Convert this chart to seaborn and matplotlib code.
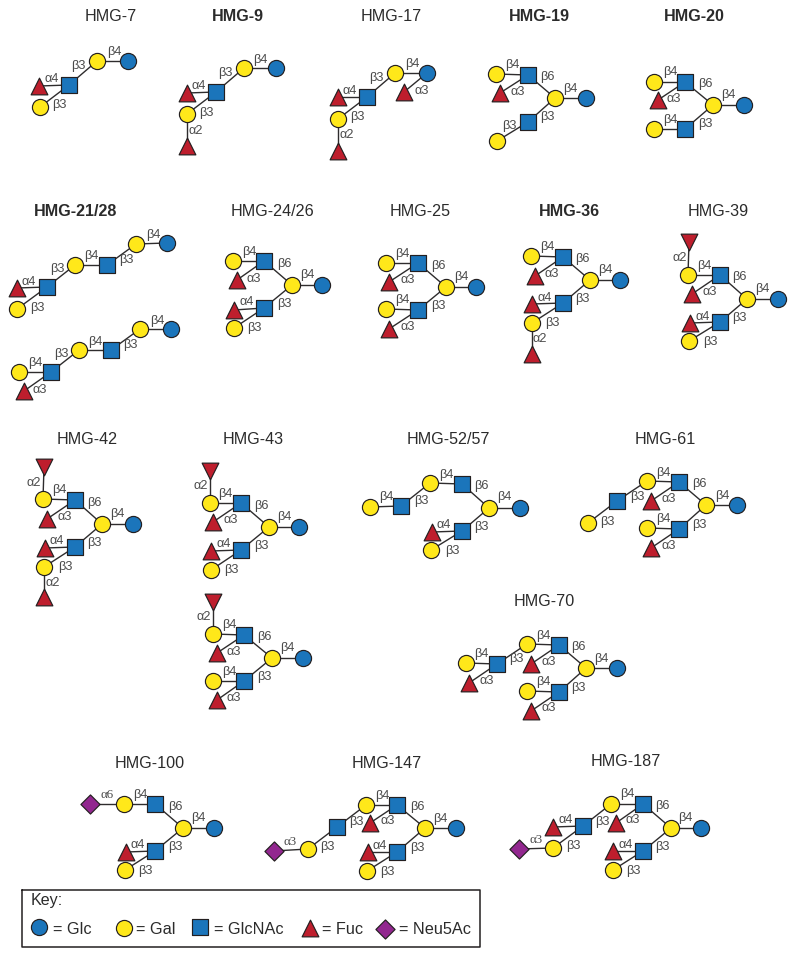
import matplotlib
matplotlib.use("Agg")
import matplotlib.pyplot as plt
import pandas as pd
import seaborn as sns

sns.set_theme(style="white")
plt.rcParams['font.family'] = ['Liberation Sans', 'DejaVu Sans']

# ---- residue appearance -------------------------------------------------
KINDS = ["Glc", "Gal", "GlcNAc", "Fuc", "FucD", "Neu5Ac"]
COLORS = ["#1b75bb", "#ffe81a", "#1b75bb", "#be1e2d", "#be1e2d", "#92278f"]
MARKERS = ["o", "o", "s", "^", "v", "D"]
SIZES = [135, 135, 125, 145, 145, 95]

# ---- titles: text, x, y, bold ------------------------------------------
TITLE_TEXT = ["HMG-7", "HMG-9", "HMG-17", "HMG-19", "HMG-20",
              "HMG-21/28", "HMG-24/26", "HMG-25", "HMG-36", "HMG-39",
              "HMG-42", "HMG-43", "HMG-52/57", "HMG-61", "HMG-70",
              "HMG-100", "HMG-147", "HMG-187"]
TITLE_X = [111, 238, 391, 539, 694, 76, 273, 420, 569, 718, 87, 253, 448, 665, 544, 150, 387, 626]
TITLE_Y = [15, 15, 15, 15, 15, 210, 210, 210, 210, 210, 438, 438, 438, 438, 601, 763, 763, 760]
TITLE_BOLD = ["HMG-9", "HMG-19", "HMG-20", "HMG-21/28", "HMG-36"]

# ---- glycans: residues (kind, x, y), links (index pairs), labels --------
hmg7_nodes = [("Glc",128,61),("Gal",97,61),("GlcNAc",69,85),("Fuc",39,86),("Gal",40,107)]
hmg7_links = [(0,1),(1,2),(2,3),(2,4)]
hmg7_labels = [("β4",114,52),("β3",78,66),("α4",52,79),("β3",59,105)]

hmg9_nodes = [("Glc",276,68),("Gal",244,68),("GlcNAc",216,92),("Fuc",187,93),("Gal",187,114),("Fuc",187,146)]
hmg9_links = [(0,1),(1,2),(2,3),(2,4),(4,5)]
hmg9_labels = [("β4",260,60),("β3",225,73),("α4",199,86),("β3",206,113),("α2",196,131)]

hmg17_nodes = [("Glc",427,73),("Gal",395,73),("GlcNAc",367,97),("Fuc",338,97),("Gal",338,119),("Fuc",338,151),("Fuc",404,92)]
hmg17_links = [(0,1),(1,2),(2,3),(2,4),(4,5),(0,6)]
hmg17_labels = [("β4",412,64),("α3",422,91),("β3",376,78),("α4",350,91),("β3",357,117),("α2",347,135)]

hmg19_nodes = [("Gal",496,74),("GlcNAc",528,75),("Fuc",500,93),("Gal",555,98),("Glc",586,98),("GlcNAc",528,122),("Gal",497,141)]
hmg19_links = [(0,1),(1,2),(1,3),(3,4),(3,5),(5,6)]
hmg19_labels = [("β4",512,65),("α3",518,92),("β6",547,77),("β4",570,89),("β3",547,117),("β3",509,126)]

hmg20_nodes = [("Gal",654,82),("GlcNAc",685,82),("Fuc",658,100),("Gal",713,105),("Glc",744,105),("GlcNAc",685,129),("Gal",654,129)]
hmg20_links = [(0,1),(1,2),(1,3),(3,4),(3,5),(5,6)]
hmg20_labels = [("β4",670,72),("α3",674,99),("β6",705,84),("β4",728,95),("β3",705,124),("β4",670,120)]

hmg21a_nodes = [("Glc",167,243),("Gal",136,244),("GlcNAc",107,265),("Gal",75,265),("GlcNAc",47,287),("Fuc",17,288),("Gal",17,309)]
hmg21a_links = [(0,1),(1,2),(2,3),(3,4),(4,5),(4,6)]
hmg21a_labels = [("β4",153,235),("β3",126,260),("β4",91,256),("β3",57,269),("α4",29,282),("β3",37,308)]

hmg21b_nodes = [("Glc",171,329),("Gal",140,329),("GlcNAc",111,350),("Gal",79,350),("GlcNAc",51,372),("Gal",19,372),("Fuc",24,391)]
hmg21b_links = [(0,1),(1,2),(2,3),(3,4),(4,5),(4,6)]
hmg21b_labels = [("β4",157,321),("β3",130,345),("β4",95,342),("β3",61,354),("β4",35,363),("α3",40,390)]

hmg24_nodes = [("Gal",233,261),("GlcNAc",264,261),("Fuc",237,280),("Gal",292,285),("Glc",322,285),("GlcNAc",264,308),("Fuc",234,310),("Gal",234,328)]
hmg24_links = [(0,1),(1,2),(1,3),(3,4),(3,5),(5,6),(5,7)]
hmg24_labels = [("β4",249,252),("α3",254,279),("β6",284,264),("β4",307,275),("β3",284,304),("α4",247,302),("β3",254,328)]

hmg25_nodes = [("Gal",386,263),("GlcNAc",418,263),("Fuc",389,282),("Gal",446,287),("Glc",476,287),("GlcNAc",418,310),("Gal",386,309),("Fuc",389,329)]
hmg25_links = [(0,1),(1,2),(1,3),(3,4),(3,5),(5,6),(5,7)]
hmg25_labels = [("β4",402,254),("α3",408,280),("β6",438,266),("β4",461,277),("β3",438,306),("β4",402,300),("α3",408,327)]

hmg36_nodes = [("Gal",531,256),("GlcNAc",563,257),("Fuc",535,276),("Gal",590,280),("Glc",620,280),("GlcNAc",563,303),("Fuc",532,304),("Gal",532,323),("Fuc",532,354)]
hmg36_links = [(0,1),(1,2),(1,3),(3,4),(3,5),(5,6),(5,7),(7,8)]
hmg36_labels = [("β4",547,247),("α3",552,274),("β6",582,259),("β4",605,270),("β3",582,299),("α4",545,298),("β3",552,323),("α2",540,339)]

hmg39_nodes = [("FucD",689,242),("Gal",688,275),("GlcNAc",720,275),("Fuc",692,294),("Gal",747,299),("Glc",778,299),("GlcNAc",720,322),("Fuc",690,323),("Gal",689,341)]
hmg39_links = [(0,1),(1,2),(2,3),(2,4),(4,5),(4,6),(6,7),(6,8)]
hmg39_labels = [("α2",680,258),("β4",704,266),("α3",710,292),("β6",739,277),("β4",762,289),("β3",739,318),("α4",703,317),("β3",710,342)]

hmg42_nodes = [("FucD",44,467),("Gal",43,499),("GlcNAc",75,500),("Fuc",47,519),("Gal",102,524),("Glc",133,524),("GlcNAc",75,547),("Fuc",45,548),("Gal",44,567),("Fuc",44,597)]
hmg42_links = [(0,1),(1,2),(2,3),(2,4),(4,5),(4,6),(6,7),(6,8),(8,9)]
hmg42_labels = [("α2",34,483),("β4",59,490),("α3",65,517),("β6",94,503),("β4",117,514),("β3",94,543),("α4",57,541),("β3",65,567),("α2",53,583)]

hmg43a_nodes = [("FucD",210,471),("Gal",210,503),("GlcNAc",241,503),("Fuc",213,522),("Gal",269,527),("Glc",299,527),("GlcNAc",241,550),("Fuc",211,551),("Gal",211,570)]
hmg43a_links = [(0,1),(1,2),(2,3),(2,4),(4,5),(4,6),(6,7),(6,8)]
hmg43a_labels = [("α2",201,486),("β4",225,494),("α3",231,520),("β6",261,506),("β4",284,517),("β3",261,546),("α4",224,544),("β3",231,570)]

hmg43b_nodes = [("FucD",213,602),("Gal",213,634),("GlcNAc",244,635),("Fuc",217,653),("Gal",272,658),("Glc",303,658),("GlcNAc",244,681),("Gal",213,681),("Fuc",217,700)]
hmg43b_links = [(0,1),(1,2),(2,3),(2,4),(4,5),(4,6),(6,7),(6,8)]
hmg43b_labels = [("α2",204,617),("β4",229,625),("α3",234,652),("β6",264,637),("β4",287,648),("β3",264,677),("β4",229,672),("α3",234,698)]

hmg52_nodes = [("Gal",370,507),("GlcNAc",401,506),("Gal",430,483),("GlcNAc",462,484),("Gal",489,508),("Glc",520,508),("GlcNAc",462,531),("Fuc",432,532),("Gal",431,550)]
hmg52_links = [(0,1),(1,2),(2,3),(3,4),(4,5),(4,6),(6,7),(6,8)]
hmg52_labels = [("β4",386,497),("β3",421,501),("β4",446,475),("β6",481,486),("β4",504,497),("β3",481,527),("α4",444,525),("β3",452,551)]

hmg61_nodes = [("Gal",588,523),("GlcNAc",617,501),("Gal",647,481),("GlcNAc",679,482),("Fuc",651,501),("Gal",706,505),("Glc",737,505),("GlcNAc",679,529),("Gal",647,528),("Fuc",651,548)]
hmg61_links = [(0,1),(1,2),(2,3),(3,4),(3,5),(5,6),(5,7),(7,8),(7,9)]
hmg61_labels = [("β3",607,522),("β3",637,497),("β4",663,473),("α3",669,499),("β6",699,484),("β4",722,496),("β4",663,519),("β3",699,525),("α3",669,546)]

hmg70_nodes = [("Gal",466,663),("GlcNAc",497,664),("Fuc",469,683),("Gal",527,644),("GlcNAc",559,645),("Fuc",531,664),("Gal",586,668),("Glc",617,668),("GlcNAc",559,692),("Gal",527,691),("Fuc",531,711)]
hmg70_links = [(0,1),(1,2),(1,3),(3,4),(4,5),(4,6),(6,7),(6,8),(8,9),(8,10)]
hmg70_labels = [("β4",481,654),("α3",487,681),("β3",516,659),("β4",543,636),("α3",549,662),("β6",578,647),("β4",601,659),("β4",543,682),("β3",578,688),("α3",549,708)]

hmg100_nodes = [("Neu5Ac",90,804),("Gal",124,804),("GlcNAc",155,804),("Gal",183,828),("Glc",214,828),("GlcNAc",155,851),("Fuc",126,852),("Gal",125,870)]
hmg100_links = [(0,1),(1,2),(2,3),(3,4),(3,5),(5,6),(5,7)]
hmg100_labels = [("α6",107,795),("β4",140,795),("β6",175,807),("β4",198,818),("β3",175,847),("α4",138,845),("β3",145,871)]

hmg147_nodes = [("Neu5Ac",274,851),("Gal",308,849),("GlcNAc",337,827),("Gal",366,805),("GlcNAc",397,805),("Fuc",370,823),("Gal",425,828),("Glc",456,828),("GlcNAc",397,852),("Fuc",368,852),("Gal",367,871)]
hmg147_links = [(0,1),(1,2),(2,3),(3,4),(4,5),(4,6),(6,7),(6,8),(8,9),(8,10)]
hmg147_labels = [("α3",290,842),("β3",327,847),("β3",356,822),("β4",382,796),("α3",388,821),("β6",417,807),("β4",440,819),("β3",417,848),("α4",380,846),("β3",387,872)]

hmg187_nodes = [("Neu5Ac",519,849),("Gal",553,848),("GlcNAc",583,826),("Fuc",553,827),("Gal",611,804),("GlcNAc",643,804),("Fuc",616,823),("Gal",671,828),("Glc",701,828),("GlcNAc",643,851),("Fuc",613,851),("Gal",613,870)]
hmg187_links = [(0,1),(1,2),(2,3),(2,4),(4,5),(5,6),(5,7),(7,8),(7,9),(9,10),(9,11)]
hmg187_labels = [("α3",536,840),("β3",573,846),("α4",566,820),("β3",602,822),("β4",627,794),("α3",633,820),("β6",662,806),("β4",685,818),("β3",662,847),("α4",626,845),("β3",633,871)]

GLYCANS = [
    (hmg7_nodes, hmg7_links, hmg7_labels), (hmg9_nodes, hmg9_links, hmg9_labels),
    (hmg17_nodes, hmg17_links, hmg17_labels), (hmg19_nodes, hmg19_links, hmg19_labels),
    (hmg20_nodes, hmg20_links, hmg20_labels), (hmg21a_nodes, hmg21a_links, hmg21a_labels),
    (hmg21b_nodes, hmg21b_links, hmg21b_labels), (hmg24_nodes, hmg24_links, hmg24_labels),
    (hmg25_nodes, hmg25_links, hmg25_labels), (hmg36_nodes, hmg36_links, hmg36_labels),
    (hmg39_nodes, hmg39_links, hmg39_labels), (hmg42_nodes, hmg42_links, hmg42_labels),
    (hmg43a_nodes, hmg43a_links, hmg43a_labels), (hmg43b_nodes, hmg43b_links, hmg43b_labels),
    (hmg52_nodes, hmg52_links, hmg52_labels), (hmg61_nodes, hmg61_links, hmg61_labels),
    (hmg70_nodes, hmg70_links, hmg70_labels), (hmg100_nodes, hmg100_links, hmg100_labels),
    (hmg147_nodes, hmg147_links, hmg147_labels), (hmg187_nodes, hmg187_links, hmg187_labels),
]

# ---- key -----------------------------------------------------------------
KEY_NODES = [("Glc",39,927),("Gal",124,928),("GlcNAc",200,927),("Fuc",310,928),("Neu5Ac",385,929)]
KEY_TEXT = ["= Glc", "= Gal", "= GlcNAc", "= Fuc", "= Neu5Ac"]
KEY_TEXT_X = [53, 136, 214, 322, 399]
KEY_BOX = (22, 890, 480, 947)

# ---- drawing -------------------------------------------------------------
fig = plt.figure(figsize=(7.95, 9.56), dpi=100)
ax = fig.add_axes([0, 0, 1, 1])
ax.set_xlim(0, 795)
ax.set_ylim(956, 0)
ax.axis("off")

for nodes, links, labels in GLYCANS:
    for a, b in links:
        ax.plot([nodes[a][1], nodes[b][1]], [nodes[a][2], nodes[b][2]],
                color="#2e2c2d", lw=1.0, zorder=1, solid_capstyle="butt")
    for text, x, y in labels:
        serif = text in ("α6",) or (text == "α3" and nodes[0][0] == "Neu5Ac" and x < nodes[1][1])
        ax.text(x, y, text, ha="center", va="center", fontsize=9.2 if not serif else 9.4,
                color="#4a4a4a",
                family="Liberation Serif" if serif else "Liberation Sans", zorder=4)

all_nodes = [n for g in GLYCANS for n in g[0]] + KEY_NODES
df = pd.DataFrame(all_nodes, columns=["kind", "x", "y"])
for kind, color, marker, size in zip(KINDS, COLORS, MARKERS, SIZES):
    sub = df[df["kind"] == kind]
    sns.scatterplot(data=sub, x="x", y="y", ax=ax, color=color, marker=marker, s=size,
                    edgecolor="#231f20", linewidth=0.85, zorder=3, legend=False, clip_on=False)
ax.set_xlabel("")
ax.set_ylabel("")

for text, x, y in zip(TITLE_TEXT, TITLE_X, TITLE_Y):
    bold = text in TITLE_BOLD
    ax.text(x, y + 1, text, ha="center", va="center", fontsize=11.6,
            fontweight="bold" if bold else "normal", color="#2b2b2b")

x0, y0, x1, y1 = KEY_BOX
ax.plot([x0, x1, x1, x0, x0], [y0, y0, y1, y1, y0], color="#231f20", lw=1.1, zorder=2)
ax.text(31, 901, "Key:", ha="left", va="center", fontsize=11.6, color="#2b2b2b")
for text, tx in zip(KEY_TEXT, KEY_TEXT_X):
    ax.text(tx, 929, text, ha="left", va="center", fontsize=11.7, color="#2b2b2b")

fig.savefig("out.png", dpi=100, facecolor="white")
